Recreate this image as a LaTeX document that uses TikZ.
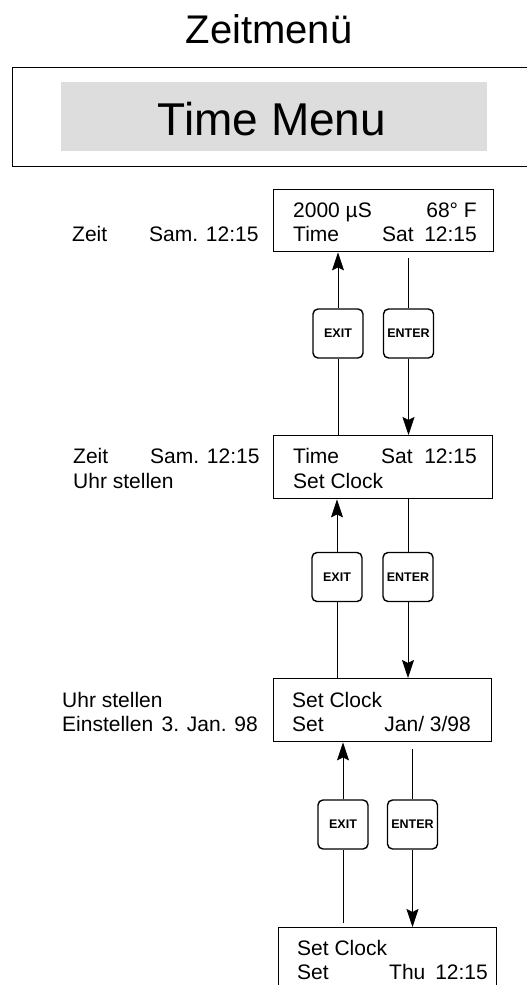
\documentclass[tikz,border=0pt]{standalone}
\usepackage{fontspec}
\setmainfont{Liberation Sans}
\usetikzlibrary{arrows.meta}
\definecolor{menugray}{HTML}{DDDDDD}
\tikzset{
  dispbox/.style={draw, line width=1.4pt, anchor=north west, inner sep=0pt},
  btn/.style={draw, line width=1.4pt, rounded corners=5pt, minimum width=50pt, minimum height=49pt, inner sep=0pt,
    font=\bfseries\fontsize{12.5}{13}\selectfont},
  txt/.style={anchor=base west, inner sep=0pt, font=\fontsize{21}{25}\selectfont},
  rtxt/.style={anchor=base east, inner sep=0pt, font=\fontsize{21}{25}\selectfont},
  conn/.style={line width=0.9pt},
  arr/.style={line width=0.9pt, -{Stealth[length=18pt,width=12pt,inset=3pt]}}
}
\begin{document}
\begin{tikzpicture}[x=1pt,y=-1pt]
\useasboundingbox (0,0) rectangle (527,985);
\clip (0,0) rectangle (527,985);
% title
\node[anchor=base, inner sep=0pt, font=\fontsize{40}{44}\selectfont] (title) at (269,43) {Zeitmenü};
\node[draw, line width=1.4pt, anchor=north west, minimum width=540pt, minimum height=99pt, inner sep=0pt] (outer) at (12,67) {};
\node[fill=menugray, anchor=north west, minimum width=426pt, minimum height=69pt, inner sep=0pt] (gray) at (61,82) {};
\node[anchor=base, inner sep=0pt, font=\fontsize{46}{50}\selectfont] (tm) at (272,135) {Time Menu};

% display boxes
\node[dispbox, minimum width=220pt, minimum height=62pt] (b1) at (273,189) {};
\node[dispbox, minimum width=219pt, minimum height=63pt] (b2) at (273,435) {};
\node[dispbox, minimum width=218pt, minimum height=63pt] (b3) at (273,678) {};
\node[dispbox, minimum width=218pt, minimum height=80pt] (b4) at (278,927) {};

% box texts
\node[txt] (b1a) at (293,217) {2000 µS};
\node[rtxt] (b1b) at (477,217) {68° F};
\node[txt] (b1c) at (293,241) {Time};
\node[txt] (b1d) at (382,241) {Sat};
\node[rtxt] (b1e) at (477,241) {12:15};

\node[txt] (b2a) at (293,463) {Time};
\node[txt] (b2b) at (381,463) {Sat};
\node[rtxt] (b2c) at (477,463) {12:15};
\node[txt] (b2d) at (293,488) {Set Clock};

\node[txt] (b3a) at (292,707) {Set Clock};
\node[txt] (b3b) at (292,731) {Set};
\node[rtxt] (b3c) at (471,731) {Jan/ 3/98};

\node[txt] (b4a) at (297,955) {Set Clock};
\node[txt] (b4b) at (297,979) {Set};
\node[txt] (b4c) at (389,979) {Thu};
\node[rtxt] (b4d) at (488,979) {12:15};

% left labels
\node[txt] (l1a) at (72,241) {Zeit};
\node[txt] (l1b) at (149,241) {Sam. 12:15};
\node[txt] (l2a) at (73,463) {Zeit};
\node[txt] (l2b) at (150,463) {Sam. 12:15};
\node[txt] (l2c) at (73,488) {Uhr stellen};
\node[txt] (l3a) at (62,707) {Uhr stellen};
\node[txt] (l3b) at (62,731) {Einstellen};
\node[rtxt] (l3c) at (258,731) {3. Jan. 98};

% buttons
\node[btn] (x1) at (338,333.5) {EXIT};
\node[btn] (e1) at (408.5,333.5) {ENTER};
\node[btn] (x2) at (337,577) {EXIT};
\node[btn] (e2) at (408,577) {ENTER};
\node[btn] (x3) at (343,824.5) {EXIT};
\node[btn] (e3) at (412.5,824.5) {ENTER};

% connectors pair 1
\draw[conn] (x1.south |- b2.north) -- (x1.south);
\draw[arr] (x1.north) -- (x1.north |- b1.south);
\draw[conn] ([yshift=-6pt]e1.north |- b1.south) -- (e1.north);
\draw[arr] (e1.south) -- (e1.south |- b2.north);
% pair 2
\draw[conn] (x2.south |- b3.north) -- (x2.south);
\draw[arr] (x2.north) -- (x2.north |- b2.south);
\draw[conn] (e2.north |- b2.south) -- (e2.north);
\draw[arr] (e2.south) -- (e2.south |- b3.north);
% pair 3
\draw[conn] ([yshift=4pt]x3.south |- b4.north) -- (x3.south);
\draw[arr] (x3.north) -- (x3.north |- b3.south);
\draw[conn] ([yshift=-7pt]e3.north |- b3.south) -- (e3.north);
\draw[arr] (e3.south) -- (e3.south |- b4.north);
\end{tikzpicture}
\end{document}
